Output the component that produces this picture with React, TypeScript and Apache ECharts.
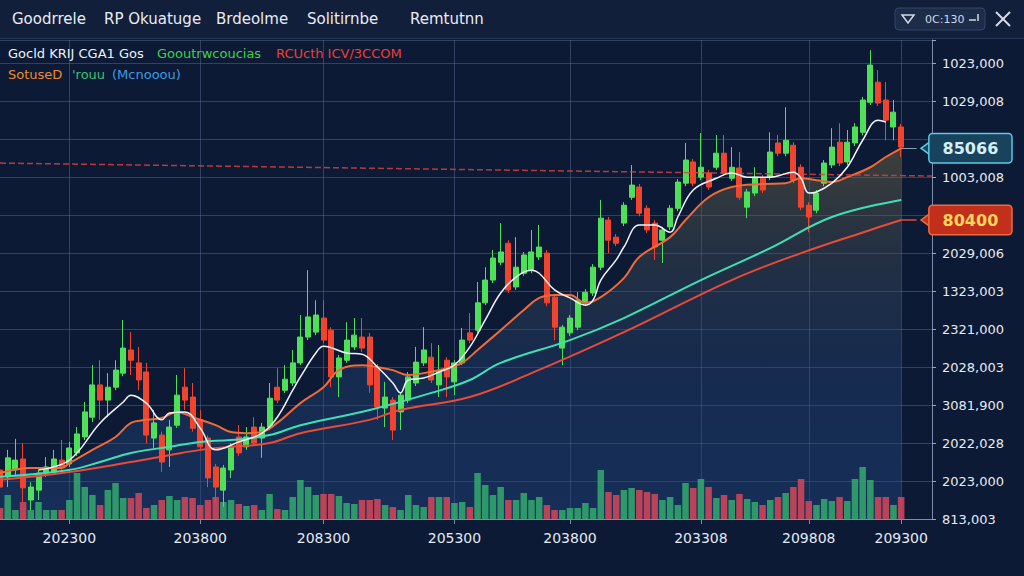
import React, { useEffect, useRef } from "react";
import * as echarts from "echarts";

const FONT = "DejaVu Sans";

const categories = Array.from({ length: 122 }, (_, i) => String(i));
const xLabelIdx = [9, 26, 42, 59, 74, 91, 105, 117];
const xLabels = ["202300", "203800", "208300", "205300", "203800", "203308", "209808", "209300"];

// y tick labels from the bottom tick (800) upward, one per 100
const yTickLabels = ["813,003", "2023,000", "2022,028", "3081,900", "2028,003", "2321,000", "1323,003", "2029,006", "", "1003,008", "", "1029,008", "1023,000"];

const menuItems = ["Goodrrele", "RP Okuatuge", "Brdeolme", "Solitirnbe", "Remtutnn"];
const menuX = [12, 104, 216, 307, 410];

// [open, close, low, high]
const candles = [
  [929, 884, 871, 942], [911, 961, 884, 982], [929, 955, 916, 1011], [958, 882, 845, 1000],
  [850, 884, 824, 897], [876, 921, 850, 929], [921, 937, 911, 963], [924, 958, 916, 982],
  [955, 937, 929, 1008], [945, 987, 937, 1003], [974, 1024, 966, 1042], [1016, 1082, 1008, 1108],
  [1068, 1153, 1055, 1205], [1153, 1113, 1061, 1218], [1113, 1147, 1068, 1184], [1147, 1192, 1139, 1218],
  [1184, 1250, 1176, 1324], [1245, 1218, 1179, 1292], [1211, 1166, 1139, 1253], [1187, 1021, 1000, 1211],
  [1013, 1053, 987, 1087], [1021, 950, 924, 1030], [982, 1042, 937, 1061], [1047, 1126, 1040, 1179],
  [1147, 1113, 1087, 1197], [1121, 1039, 1030, 1158], [1061, 990, 982, 1087], [1013, 908, 884, 1020],
  [937, 884, 845, 945], [876, 934, 832, 942], [929, 990, 908, 1000], [1016, 974, 966, 1047],
  [990, 1016, 982, 1042], [1042, 1000, 995, 1068], [1013, 1042, 961, 1053], [1042, 1118, 1034, 1158],
  [1147, 1113, 1105, 1197], [1139, 1168, 1132, 1205], [1158, 1211, 1150, 1245], [1211, 1279, 1205, 1337],
  [1279, 1332, 1271, 1455], [1292, 1337, 1284, 1376], [1329, 1271, 1263, 1376], [1297, 1174, 1147, 1305],
  [1174, 1224, 1121, 1232], [1218, 1271, 1211, 1318], [1253, 1284, 1245, 1329], [1279, 1250, 1240, 1329],
  [1279, 1153, 1132, 1290], [1200, 1095, 1061, 1208], [1092, 1121, 1042, 1161], [1113, 1034, 1008, 1121],
  [1082, 1126, 1034, 1134], [1113, 1174, 1105, 1187], [1158, 1213, 1150, 1253], [1211, 1245, 1203, 1305],
  [1226, 1166, 1158, 1263], [1153, 1187, 1121, 1258], [1218, 1174, 1121, 1226], [1161, 1211, 1126, 1218],
  [1211, 1271, 1205, 1303], [1290, 1271, 1263, 1342], [1297, 1369, 1290, 1424], [1369, 1429, 1363, 1463],
  [1429, 1487, 1421, 1508], [1476, 1503, 1468, 1579], [1526, 1403, 1395, 1534], [1411, 1463, 1403, 1542],
  [1447, 1495, 1440, 1503], [1455, 1503, 1447, 1561], [1490, 1516, 1482, 1574], [1500, 1369, 1360, 1508],
  [1384, 1305, 1271, 1392], [1250, 1305, 1205, 1311], [1290, 1329, 1282, 1337], [1305, 1376, 1297, 1397],
  [1369, 1397, 1363, 1405], [1395, 1463, 1387, 1471], [1463, 1592, 1455, 1640], [1587, 1534, 1500, 1595],
  [1542, 1526, 1518, 1550], [1579, 1626, 1571, 1634], [1647, 1679, 1640, 1732], [1674, 1605, 1597, 1682],
  [1618, 1561, 1553, 1626], [1579, 1516, 1482, 1587], [1534, 1561, 1474, 1569], [1569, 1618, 1561, 1626],
  [1618, 1687, 1610, 1695], [1684, 1745, 1676, 1790], [1740, 1684, 1676, 1748], [1700, 1726, 1692, 1816],
  [1711, 1674, 1666, 1719], [1726, 1763, 1719, 1811], [1763, 1711, 1703, 1811], [1697, 1726, 1690, 1779],
  [1724, 1647, 1640, 1766], [1621, 1661, 1592, 1669], [1658, 1700, 1650, 1726], [1697, 1666, 1658, 1705],
  [1700, 1766, 1692, 1818], [1790, 1763, 1755, 1811], [1763, 1797, 1755, 1884], [1784, 1692, 1684, 1792],
  [1726, 1621, 1613, 1734], [1626, 1595, 1555, 1634], [1613, 1658, 1605, 1666], [1684, 1737, 1676, 1745],
  [1732, 1779, 1724, 1829], [1792, 1737, 1729, 1842], [1740, 1792, 1732, 1824], [1790, 1832, 1782, 1842],
  [1818, 1903, 1810, 1911], [1897, 1995, 1890, 2034], [1950, 1895, 1887, 1982], [1903, 1850, 1797, 1950],
  [1832, 1871, 1797, 1903], [1832, 1779, 1753, 1840],
];

const volumes = [
  110, 240, 90, 170, 90, 170, 90, 90, 90, 190, 460, 320, 240, 140, 290, 360, 210, 210, 260, 110,
  140, 190, 230, 190, 220, 210, 140, 190, 220, 170, 190, 150, 130, 140, 90, 250, 100, 90, 220, 390,
  320, 240, 250, 250, 230, 160, 150, 190, 190, 200, 140, 120, 90, 240, 140, 120, 220, 220, 220, 160,
  170, 120, 460, 340, 240, 320, 190, 190, 260, 190, 220, 140, 90, 90, 110, 110, 160, 110, 490, 270,
  240, 290, 310, 290, 270, 250, 190, 220, 140, 360, 310, 400, 320, 210, 240, 190, 250, 200, 170, 140,
  190, 220, 260, 320, 400, 180, 140, 200, 180, 220, 180, 400, 520, 390, 220, 220, 140, 220,
];

const whiteLine = [
  [5, 929], [9, 955], [13, 1053], [16, 1108], [17, 1126], [19, 1105], [21, 1061], [22, 1079], [24, 1082],
  [26, 1039], [28, 982], [31, 1003], [34, 1026], [36, 1068], [38, 1139], [39, 1174], [41, 1237], [42, 1255],
  [45, 1237], [47, 1234], [49, 1200], [51, 1158], [52, 1132], [53, 1166], [55, 1171], [57, 1187], [59, 1205],
  [61, 1253], [63, 1324], [65, 1395], [67, 1437], [69, 1455], [70, 1447], [72, 1403], [74, 1382], [76, 1363],
  [77, 1376], [78, 1429], [80, 1482], [81, 1516], [83, 1574], [85, 1574], [87, 1555], [88, 1595], [90, 1666],
  [93, 1697], [95, 1711], [97, 1700], [100, 1700], [103, 1713], [104, 1697], [105, 1658], [106, 1661],
  [108, 1684], [110, 1726], [112, 1797], [114, 1850], [115, 1845],
];

const orangeLine = [
  [0, 921], [4, 934], [8, 934], [9, 947], [12, 982], [15, 1016], [17, 1053], [19, 1061], [21, 1066], [23, 1082],
  [25, 1068], [28, 1047], [30, 1029], [32, 1026], [34, 1029], [36, 1053], [39, 1105], [42, 1147], [44, 1192],
  [47, 1205], [49, 1200], [51, 1192], [53, 1179], [55, 1184], [58, 1197], [60, 1211], [62, 1245], [65, 1297],
  [68, 1350], [70, 1382], [72, 1390], [74, 1390], [76, 1369], [78, 1384], [81, 1434], [83, 1490], [87, 1542],
  [89, 1587], [92, 1647], [95, 1674], [99, 1682], [102, 1684], [104, 1697], [106, 1692], [108, 1687],
  [110, 1700], [113, 1726], [115, 1753], [117, 1776],
];

const tealLine = [
  [0, 911], [9, 929], [13, 950], [17, 974], [22, 990], [26, 1003], [30, 1008], [35, 1021], [39, 1047],
  [48, 1087], [56, 1132], [61, 1166], [65, 1211], [74, 1271], [81, 1329], [91, 1429], [100, 1513],
  [108, 1595], [117, 1640],
];

const redLine = [
  [0, 903], [9, 924], [17, 950], [22, 968], [26, 982], [30, 990], [35, 1000], [39, 1026], [48, 1061],
  [52, 1087], [61, 1121], [69, 1184], [81, 1292], [95, 1429], [104, 1500], [113, 1561], [117, 1587],
];

const dashedLevel = [
  [0, 1737],
  [121, 1703],
];

const badgeTexts = ["85066", "80400"];

const legendRow1 = [
  { text: "Gocld KRIJ CGA1 Gos", color: "#eef2f8", x: 8 },
  { text: "Gooutrwcoucias", color: "#45cf4a", x: 157 },
  { text: "RCUcth ICV/3CCOM", color: "#ef3f30", x: 276 },
];
const legendRow2 = [
  { text: "SotuseD", color: "#f08a2a", x: 8 },
  { text: "'rouu", color: "#3cc070", x: 72 },
  { text: "(Mcnooou)", color: "#3f9be0", x: 112 },
];

const UP = "#4fe05a";
const DOWN = "#f0442e";

export default function App() {
  const ref = useRef<HTMLDivElement>(null);

  useEffect(() => {
    if (!ref.current) return;
    const chart = echarts.init(ref.current, undefined, { renderer: "svg" });

    const volData = volumes.map((v, i) => {
      const c = candles[i];
      const up = c[1] >= c[0];
      return { value: v, itemStyle: { color: up ? "rgba(52,170,110,0.85)" : "rgba(214,70,88,0.85)" } };
    });

    const lastOrange = orangeLine[orangeLine.length - 1];
    const lastRed = redLine[redLine.length - 1];

    const badge = (
      from: number[],
      text: string,
      bg: string,
      border: string,
      color: string,
      lineColor: string,
      lineWidth: number
    ) => ({
      markLine: {
        silent: true,
        symbol: ["none", "none"],
        lineStyle: { color: lineColor, type: "solid", width: lineWidth },
        label: {
          show: true,
          position: "end",
          distance: 13,
          formatter: text,
          backgroundColor: bg,
          borderColor: border,
          borderWidth: 1.5,
          borderRadius: 3,
          padding: [6, 13],
          color,
          fontSize: 16,
          fontWeight: "bold",
          fontFamily: FONT,
        },
        data: [[{ coord: [from[0], from[1]] }, { coord: [119, from[1]] }]],
      },
      markPoint: {
        silent: true,
        label: { show: false },
        data: [
          {
            coord: [119, from[1]],
            symbol: "triangle",
            symbolSize: [16, 11],
            symbolRotate: 90,
            symbolOffset: [10, 0],
            itemStyle: { color: bg, borderColor: border, borderWidth: 1.5 },
          },
        ],
      },
    });

    const graphics: any[] = [
      { type: "rect", z: 10, shape: { x: 0, y: 0, width: 1024, height: 38 }, style: { fill: "#121f3a" } },
      { type: "line", z: 11, shape: { x1: 0, y1: 38.5, x2: 1024, y2: 38.5 }, style: { stroke: "#26375a", lineWidth: 1 } },
      ...menuItems.map((t, i) => ({
        type: "text",
        z: 12,
        x: menuX[i],
        y: 19,
        style: { text: t, fill: "#e8ecf4", font: `15px "${FONT}"`, textVerticalAlign: "middle" },
      })),
      { type: "rect", z: 12, shape: { x: 895, y: 8, width: 90, height: 22, r: 4 }, style: { fill: "#1d2c48", stroke: "#33456a", lineWidth: 1 } },
      { type: "polygon", z: 13, shape: { points: [[902, 15], [914, 15], [908, 23]] }, style: { fill: "none", stroke: "#d0d8e8", lineWidth: 1.5 } },
      { type: "text", z: 13, x: 925, y: 19, style: { text: "0C:130", fill: "#d0d8e8", font: `11px "${FONT}"`, textVerticalAlign: "middle" } },
      { type: "line", z: 13, shape: { x1: 969, y1: 20, x2: 976, y2: 20 }, style: { stroke: "#d0d8e8", lineWidth: 1.5 } },
      { type: "line", z: 13, shape: { x1: 978, y1: 14, x2: 978, y2: 21 }, style: { stroke: "#d0d8e8", lineWidth: 1.5 } },
      { type: "line", z: 13, shape: { x1: 996, y1: 12, x2: 1010, y2: 26 }, style: { stroke: "#d4dcea", lineWidth: 2 } },
      { type: "line", z: 13, shape: { x1: 1010, y1: 12, x2: 996, y2: 26 }, style: { stroke: "#d4dcea", lineWidth: 2 } },
      ...legendRow1.map((l) => ({
        type: "text",
        z: 12,
        x: l.x,
        y: 53,
        style: { text: l.text, fill: l.color, font: `13px "${FONT}"`, textVerticalAlign: "middle" },
      })),
      ...legendRow2.map((l) => ({
        type: "text",
        z: 12,
        x: l.x,
        y: 74,
        style: { text: l.text, fill: l.color, font: `13px "${FONT}"`, textVerticalAlign: "middle" },
      })),
    ];

    chart.setOption({
      animation: false,
      backgroundColor: "#0c1a35",
      grid: { left: 0, right: 92, top: 40, bottom: 57 },
      graphic: graphics,
      xAxis: {
        type: "category",
        data: categories,
        boundaryGap: false,
        axisLine: { show: true, lineStyle: { color: "#7d8cab", width: 1 } },
        axisTick: {
          show: true,
          length: 5,
          interval: (i: number) => xLabelIdx.includes(i),
          lineStyle: { color: "#7d8cab" },
        },
        axisLabel: {
          interval: (i: number) => xLabelIdx.includes(i),
          formatter: (_v: string, i: number) => {
            const k = xLabelIdx.indexOf(i);
            return k >= 0 ? xLabels[k] : "";
          },
          color: "#e4e9f2",
          fontSize: 14,
          fontFamily: FONT,
          margin: 12,
        },
        splitLine: {
          show: true,
          interval: (i: number) => xLabelIdx.includes(i),
          lineStyle: { color: "rgba(110,130,170,0.38)", width: 1 },
        },
      },
      yAxis: [
        {
          type: "value",
          position: "right",
          min: 800,
          max: 2061,
          interval: 100,
          axisLine: { show: true, lineStyle: { color: "#7d8cab", width: 1 } },
          axisTick: { show: true, length: 4, lineStyle: { color: "#9aa6bf" } },
          axisLabel: {
            color: "#e6eaf2",
            fontSize: 13,
            fontFamily: FONT,
            margin: 10,
            formatter: (v: number) => {
              const k = (v - 800) / 100;
              if (Math.abs(k - Math.round(k)) > 1e-6) return "";
              return yTickLabels[Math.round(k)] ?? "";
            },
          },
          splitLine: { show: true, lineStyle: { color: "rgba(110,130,170,0.38)", width: 1 } },
        },
        {
          type: "value",
          min: 0,
          max: 4790,
          show: false,
          splitLine: { show: false },
        },
      ],
      series: [
        {
          name: "fill",
          type: "line",
          data: orangeLine,
          smooth: 0.4,
          symbol: "none",
          z: 1,
          lineStyle: { width: 0 },
          areaStyle: {
            color: new echarts.graphic.LinearGradient(
              0,
              140,
              0,
              519,
              [
                { offset: 0, color: "rgba(135,118,62,0.6)" },
                { offset: 0.3, color: "rgba(78,88,92,0.5)" },
                { offset: 0.6, color: "rgba(38,72,125,0.5)" },
                { offset: 1, color: "rgba(36,76,138,0.6)" },
              ],
              true
            ),
          },
          silent: true,
        },
        {
          name: "volume",
          type: "bar",
          yAxisIndex: 1,
          data: volData,
          barWidth: 6.5,
          z: 2,
        },
        {
          name: "price",
          type: "candlestick",
          data: candles,
          barWidth: 5.5,
          z: 3,
          itemStyle: {
            color: UP,
            color0: DOWN,
            borderColor: UP,
            borderColor0: DOWN,
            borderWidth: 1,
          },
          markLine: {
            silent: true,
            symbol: ["none", "none"],
            label: { show: false },
            lineStyle: { color: "#d8403c", type: "dashed", width: 1.5, opacity: 0.85 },
            data: [[{ coord: dashedLevel[0] }, { coord: dashedLevel[1] }]],
          },
        },
        {
          name: "teal",
          type: "line",
          data: tealLine,
          smooth: 0.4,
          symbol: "none",
          z: 4,
          lineStyle: { color: "#3fe0b6", width: 2 },
        },
        {
          name: "red",
          type: "line",
          data: redLine,
          smooth: 0.4,
          symbol: "none",
          z: 4,
          lineStyle: { color: "#ea4a36", width: 2 },
          ...badge(lastRed, badgeTexts[1], "#c2301c", "#ee6a40", "#ffd45a", "#ea4a36", 1.5),
        },
        {
          name: "orange",
          type: "line",
          data: orangeLine,
          smooth: 0.4,
          symbol: "none",
          z: 4,
          lineStyle: { color: "#f26a38", width: 2 },
          ...badge(lastOrange, badgeTexts[0], "#17435c", "#5cc8e2", "#d6eef8", "#8e9aae", 1),
        },
        {
          name: "white",
          type: "line",
          data: whiteLine,
          smooth: 0.4,
          symbol: "none",
          z: 5,
          lineStyle: { color: "#f2f5fa", width: 1.5 },
        },
      ],
    });

    return () => chart.dispose();
  }, []);

  return (
    <div
      ref={ref}
      style={{ position: "fixed", left: 0, top: 0, width: 1024, height: 576, background: "#0c1a35" }}
    />
  );
}
